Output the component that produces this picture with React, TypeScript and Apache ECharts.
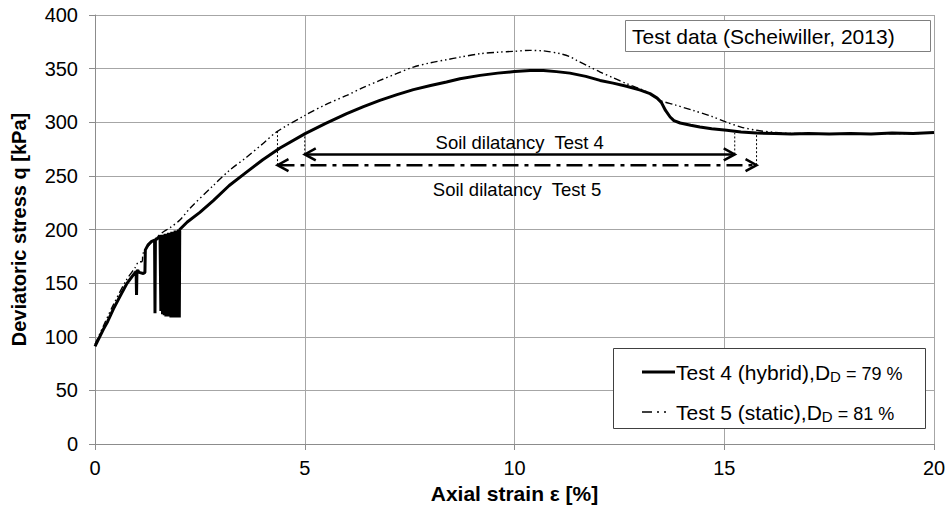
import React, { useEffect, useRef } from "react";
import * as echarts from "echarts";

const FONT = '"Liberation Sans", Arial, Helvetica, sans-serif';

// Test 4 (hybrid) – axial strain [%] and deviatoric stress [kPa]
const test4StrainStart = [0, 0.1, 0.2, 0.3, 0.44, 0.6, 0.75, 0.9, 0.98, 0.99, 1.0, 1.02, 1.05, 1.15, 1.19, 1.2, 1.27, 1.35, 1.42, 1.43, 1.44, 1.47, 1.52];
const test4StressStart = [91, 99, 107, 114, 126, 138, 149, 157, 161, 139, 161, 162, 160, 159, 160, 181, 186, 189, 190, 122, 190, 191, 193];

// Cyclic loading block of Test 4
const test4StrainCyclic = [1.55, 1.57, 1.59, 1.61, 1.63, 1.65, 1.67, 1.69, 1.71, 1.73, 1.75, 1.77, 1.79, 1.81, 1.83, 1.85, 1.87, 1.89, 1.91, 1.93, 1.95, 1.97, 1.99, 2.01];
const test4StressCyclic = [194, 124, 195, 121, 195, 120, 196, 119, 196, 119, 197, 119, 197, 118, 198, 118, 198, 118, 199, 118, 199, 118, 200, 118];

const test4StrainEnd = [2.02, 2.2, 2.5, 2.82, 3.2, 3.62, 4.0, 4.41, 5.01, 5.5, 6.0, 6.4, 6.79, 7.2, 7.59, 8.0, 8.38, 8.7, 9.18, 9.6, 10.0, 10.37, 10.69, 11.0, 11.32, 11.7, 12.04, 12.35, 12.67, 13.0, 13.23, 13.4, 13.5, 13.6, 13.71, 13.8, 13.95, 14.2, 14.42, 14.7, 15.06, 15.4, 15.77, 16.2, 16.6, 17.0, 17.5, 18.0, 18.5, 19.0, 19.5, 20.0];
const test4StressEnd = [200, 207, 216, 227, 241, 253.7, 265, 276, 289.4, 299, 308, 314.5, 320.4, 325.7, 330.4, 334.3, 337.5, 340.6, 343.7, 345.8, 347.3, 348.3, 348.3, 347.2, 345.8, 342.8, 339, 336.5, 333.5, 330, 326.7, 322.5, 318.5, 311, 304.9, 301.5, 299.3, 297.2, 295.6, 294, 292.5, 291, 290, 289.5, 289, 289.5, 289, 289.5, 289, 290, 289.5, 290.5];

// Test 5 (static)
const test5Strain = [0, 0.2, 0.44, 0.75, 0.95, 1.05, 1.12, 1.15, 1.3, 1.45, 1.6, 1.8, 2.03, 2.26, 2.82, 3.2, 3.62, 4.0, 4.33, 5.01, 5.5, 6.0, 6.4, 6.79, 7.2, 7.59, 8.0, 8.38, 8.7, 9.18, 9.6, 10.0, 10.37, 10.7, 11.08, 11.3, 11.48, 11.75, 12.04, 12.35, 12.67, 13.0, 13.23, 13.47, 13.8, 14.26, 14.7, 15.06, 15.4, 15.77, 16.2, 16.6, 17.0, 17.5, 18.0, 18.5, 19.0, 19.5, 20.0];
const test5Stress = [93, 110, 130, 153, 164, 170, 170, 178, 186, 192, 197, 202, 209, 219.6, 241, 255, 267.6, 280, 291, 306.5, 316.5, 325, 332.5, 339, 345.5, 351.4, 355.5, 358.3, 360.7, 363.9, 365.3, 366.2, 367, 366.5, 364, 361.5, 357.7, 352.5, 346.8, 341.5, 336, 331, 326.7, 320.4, 316.5, 311, 305.5, 300, 295.5, 292.5, 290.5, 289.5, 289.5, 289, 289.5, 289, 289.5, 289.5, 290];

// Soil dilatancy ranges (strain start / end, arrow level, stress on curve at both ends)
const dilatancyLabels = ["Soil dilatancy  Test 4", "Soil dilatancy  Test 5"];
const dilatancyStart = [5.0, 4.35];
const dilatancyEnd = [15.25, 15.77];
const dilatancyLevel = [270, 260];
const dilatancyCurveStart = [289.5, 291];
const dilatancyCurveEnd = [290, 291];

const xTicks = { min: 0, max: 20, interval: 5 };
const yTicks = { min: 0, max: 400, interval: 50 };

const zip = (xs: number[], ys: number[]) => xs.map((x, i) => [x, ys[i]]);

export default function App() {
  const ref = useRef<HTMLDivElement>(null);

  useEffect(() => {
    if (!ref.current) return;
    const chart = echarts.init(ref.current, undefined, { renderer: "svg" });

    const test4 = [
      ...zip(test4StrainStart, test4StressStart),
      ...zip(test4StrainCyclic, test4StressCyclic),
      ...zip(test4StrainEnd, test4StressEnd),
    ];
    const test5 = zip(test5Strain, test5Stress);
    const dilatancy = dilatancyLabels.map((_, i) => [
      dilatancyStart[i],
      dilatancyEnd[i],
      dilatancyLevel[i],
      dilatancyCurveStart[i],
      dilatancyCurveEnd[i],
    ]);

    const gridColor = "#a6a6a6";
    const textStyle = { fontFamily: FONT, color: "#000" };

    const option: any = {
      animation: false,
      backgroundColor: "#fff",
      grid: { left: 95, right: 16, top: 15, bottom: 65, containLabel: false },
      xAxis: {
        type: "value",
        ...xTicks,
        name: "Axial strain ε [%]",
        nameLocation: "middle",
        nameGap: 38,
        nameTextStyle: { ...textStyle, fontSize: 21, fontWeight: "bold" },
        axisLine: { show: true, onZero: false, lineStyle: { color: "#8c8c8c", width: 1 } },
        axisTick: { show: true, length: 6, lineStyle: { color: "#8c8c8c" } },
        axisLabel: { ...textStyle, fontSize: 20, margin: 14 },
        splitLine: { show: true, lineStyle: { color: gridColor, width: 1 } },
      },
      yAxis: {
        type: "value",
        ...yTicks,
        name: "Deviatoric stress q [kPa]",
        nameLocation: "middle",
        nameRotate: 90,
        nameGap: 66,
        nameTextStyle: { ...textStyle, fontSize: 20, fontWeight: "bold" },
        axisLine: { show: true, onZero: false, lineStyle: { color: "#8c8c8c", width: 1 } },
        axisTick: { show: true, length: 6, lineStyle: { color: "#8c8c8c" } },
        axisLabel: { ...textStyle, fontSize: 20, margin: 17 },
        splitLine: { show: true, lineStyle: { color: gridColor, width: 1 } },
      },
      series: [
        {
          name: "Test 5 (static)",
          type: "line",
          data: test5,
          showSymbol: false,
          symbol: "none",
          smooth: 0.3,
          lineStyle: { color: "#000", width: 1.4, type: [7, 3, 1.5, 3, 1.5, 3] },
          z: 3,
        },
        {
          name: "Test 4 (hybrid)",
          type: "line",
          data: test4,
          showSymbol: false,
          symbol: "none",
          lineStyle: { color: "#000", width: 3 },
          z: 4,
        },
        {
          name: "Soil dilatancy",
          type: "custom",
          coordinateSystem: "cartesian2d",
          clip: false,
          encode: { x: [0, 1], y: [2, 3, 4] },
          data: dilatancy,
          z: 5,
          renderItem: (params: any, api: any) => {
            const i = params.dataIndex;
            const xs = api.value(0);
            const xe = api.value(1);
            const lvl = api.value(2);
            const a = api.coord([xs, lvl]);
            const b = api.coord([xe, lvl]);
            const ta = api.coord([xs, api.value(3)]);
            const tb = api.coord([xe, api.value(4)]);
            const stroke = { stroke: "#000", lineWidth: 2.5, fill: "none" };
            const head = 11;
            const half = 6;
            return {
              type: "group",
              children: [
                {
                  type: "line",
                  shape: { x1: a[0] + 1, y1: a[1], x2: b[0] - 1, y2: b[1] },
                  style: { ...stroke, lineDash: i === 0 ? null : [16, 6, 4, 6] },
                },
                {
                  type: "polyline",
                  shape: { points: [[a[0] + head, a[1] - half], [a[0], a[1]], [a[0] + head, a[1] + half]] },
                  style: stroke,
                },
                {
                  type: "polyline",
                  shape: { points: [[b[0] - head, b[1] - half], [b[0], b[1]], [b[0] - head, b[1] + half]] },
                  style: stroke,
                },
                {
                  type: "line",
                  shape: { x1: a[0], y1: a[1], x2: ta[0], y2: ta[1] },
                  style: { stroke: "#000", lineWidth: 1, lineDash: [2, 2] },
                },
                {
                  type: "line",
                  shape: { x1: b[0], y1: b[1], x2: tb[0], y2: tb[1] },
                  style: { stroke: "#000", lineWidth: 1, lineDash: [2, 2] },
                },
                {
                  type: "text",
                  x: (a[0] + b[0]) / 2,
                  y: a[1] + (i === 0 ? -12 : 24),
                  style: {
                    text: dilatancyLabels[i],
                    align: "center",
                    verticalAlign: "middle",
                    fontSize: 18.5,
                    fontFamily: FONT,
                    fill: "#000",
                  },
                },
              ],
            };
          },
        },
      ],
      graphic: [
        {
          type: "rect",
          shape: { x: 625.5, y: 20.5, width: 305, height: 31 },
          style: { fill: "#fff", stroke: "#7f7f7f", lineWidth: 1 },
          z: 10,
        },
        {
          type: "text",
          x: 632,
          y: 36,
          style: {
            text: "Test data (Scheiwiller, 2013)",
            fontSize: 21,
            fontFamily: FONT,
            fill: "#000",
            verticalAlign: "middle",
          },
          z: 11,
        },
        {
          type: "rect",
          shape: { x: 613.5, y: 348.5, width: 312, height: 80 },
          style: { fill: "#fff", stroke: "#404040", lineWidth: 1 },
          z: 10,
        },
        {
          type: "line",
          shape: { x1: 642, y1: 372, x2: 675, y2: 372 },
          style: { stroke: "#000", lineWidth: 3 },
          z: 11,
        },
        {
          type: "line",
          shape: { x1: 642, y1: 412, x2: 667, y2: 412 },
          style: { stroke: "#000", lineWidth: 1.5, lineDash: [10, 5, 2, 5, 2, 20] },
          z: 11,
        },
        ...[
          { y: 372, name: "Test 4 (hybrid),", value: " = 79 %" },
          { y: 412, name: "Test 5 (static),", value: " = 81 %" },
        ].map((row) => ({
          type: "text",
          x: 676,
          y: row.y,
          z: 11,
          style: {
            text: `{a|${row.name}}{b|D}{c|D}{d|${row.value}}`,
            verticalAlign: "middle",
            fill: "#000",
            rich: {
              a: { fontSize: 21, fontFamily: FONT, fill: "#000" },
              b: { fontSize: 21, fontFamily: FONT, fill: "#000" },
              c: { fontSize: 15, fontFamily: FONT, fill: "#000", padding: [9, 0, 0, 0] },
              d: { fontSize: 18, fontFamily: FONT, fill: "#000", padding: [3, 0, 0, 0] },
            },
          },
        })),
      ],
    };

    chart.setOption(option);
    return () => chart.dispose();
  }, []);

  return (
    <div
      ref={ref}
      style={{ position: "absolute", left: 0, top: 0, width: 950, height: 509, background: "#fff" }}
    />
  );
}
